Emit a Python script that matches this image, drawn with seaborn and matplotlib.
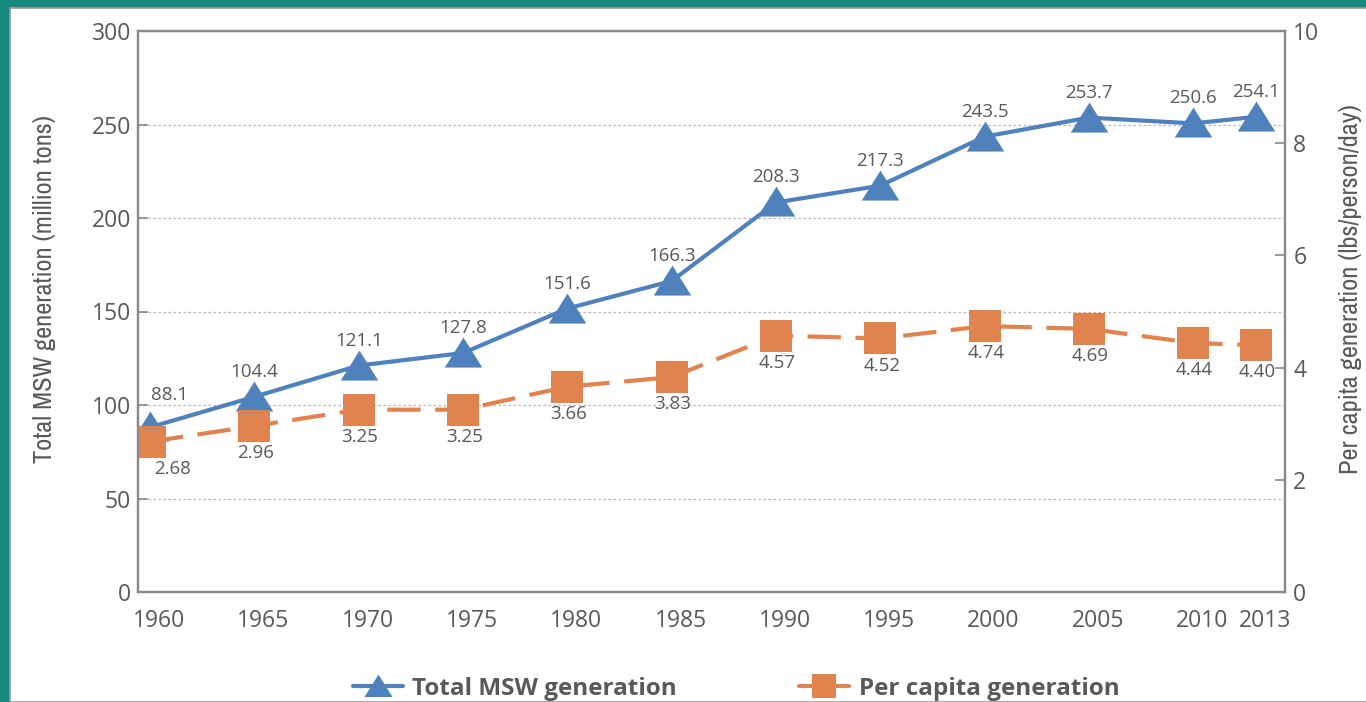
import matplotlib
matplotlib.use("Agg")
import matplotlib.pyplot as plt
import matplotlib.patches as mpatches
import matplotlib.transforms as mtransforms
from matplotlib import font_manager
from matplotlib.font_manager import FontProperties
import seaborn as sns
import pandas as pd

# ---- data ----
years = [1960, 1965, 1970, 1975, 1980, 1985, 1990, 1995, 2000, 2005, 2010, 2013]
total_msw = [88.1, 104.4, 121.1, 127.8, 151.6, 166.3, 208.3, 217.3, 243.5, 253.7, 250.6, 254.1]
per_capita = [2.68, 2.96, 3.25, 3.25, 3.66, 3.83, 4.57, 4.52, 4.74, 4.69, 4.44, 4.40]
left_ticks = [0, 50, 100, 150, 200, 250, 300]
right_ticks = [0, 2, 4, 6, 8, 10]
left_label = "Total MSW generation (million tons)"
right_label = "Per capita generation (lbs/person/day)"
series_names = ["Total MSW generation", "Per capita generation"]

df = pd.DataFrame({"year": years, "total": total_msw, "per_capita": per_capita})

sns.set_theme(style="white")
flist = font_manager.fontManager.ttflist
available = {f.name for f in flist}
BASE = "Open Sans" if "Open Sans" in available else "DejaVu Sans"
plt.rcParams["font.family"] = [BASE, "DejaVu Sans"]


def narrow_font(weight, size):
    cands = [f for f in flist
             if ("Narrow" in f.name or "Condensed" in f.name
                 or str(f.stretch) in ("condensed", "semi-condensed", "extra-condensed"))
             and not f.style.startswith(("italic", "oblique"))]
    want_bold = weight == "bold"
    best = None
    for f in cands:
        w = f.weight if isinstance(f.weight, int) else (700 if "bold" in str(f.weight) else 400)
        if (w >= 600) == want_bold:
            best = f
            if "Narrow" in f.name or "Liberation" in f.name:
                break
    if best is not None:
        return FontProperties(fname=best.fname, size=size), True
    return FontProperties(family=["Roboto", "DejaVu Sans"], weight=weight, size=size), False


TXT = "#595959"
BLUE = "#4F81BD"
ORANGE = "#E0834F"
SPINE = "#8a8a8a"

W, H = 1366, 702
fig = plt.figure(figsize=(W / 100, H / 100), dpi=100)
fig.patch.set_facecolor("#168a7f")
panel = mpatches.Rectangle((10 / W, 0), 1 - 10 / W + 0.01, 1 - 8 / H,
                           transform=fig.transFigure, facecolor="white",
                           edgecolor="#9a9a9a", linewidth=1.2, zorder=-5)
fig.patches.append(panel)

ax = fig.add_axes([138 / W, 1 - 592 / H, (1285 - 138) / W, (592 - 31) / H])
ax.set_facecolor("white")

tri = [(-1, -0.75), (1, -0.75), (0, 0.85), (-1, -0.75)]
sns.lineplot(data=df, x="year", y="total", ax=ax, color=BLUE, linewidth=3,
             marker=tri, markersize=27, markeredgewidth=0, label=series_names[0],
             legend=False)
ax.set_xlim(1959.42, 2014.4)
ax.set_ylim(0, 300)
ax.set_yticks(left_ticks)
ax.set_xticks(years)
ax.set_xticklabels([str(y) for y in years])
ax.set_xlabel("")
ax.set_ylabel("")
ax.yaxis.grid(True, linestyle=(0, (2, 2)), color="#b5b5b5", linewidth=0.9)
ax.xaxis.grid(False)
ax.set_axisbelow(True)
ax.tick_params(axis="y", direction="in", length=7, width=1.2, color=SPINE,
               labelsize=16.5, labelcolor=TXT, pad=5)
ax.tick_params(axis="x", length=0, labelsize=16.5, labelcolor=TXT, pad=12)
off = mtransforms.ScaledTranslation(9 / 100, 0, fig.dpi_scale_trans)
for lab in ax.get_xticklabels():
    lab.set_transform(lab.get_transform() + off)

ax2 = ax.twinx()
sns.lineplot(data=df, x="year", y="per_capita", ax=ax2, color=ORANGE, linewidth=3,
             linestyle=(0, (8, 3.5)), marker="s", markersize=23, markeredgewidth=0,
             label=series_names[1], legend=False)
ax2.set_ylim(0, 10)
ax2.set_yticks(right_ticks)
ax2.set_ylabel("")
ax2.tick_params(axis="y", direction="in", length=7, width=1.2, color=SPINE,
                labelsize=16.5, labelcolor=TXT, pad=6)

for a in (ax, ax2):
    for s in a.spines.values():
        s.set_color(SPINE)
        s.set_linewidth(1.6)

# value labels
for i, (x, v) in enumerate(zip(years, total_msw)):
    dx, dy = (14, 23) if i == 0 else (0, 18)
    ax.annotate(f"{v:.1f}", (x, v), xytext=(dx, dy), textcoords="offset points",
                ha="center", va="center", fontsize=13.5, color=TXT)
for i, (x, v) in enumerate(zip(years, per_capita)):
    dx = 16 if i == 0 else 1
    ax2.annotate(f"{v:.2f}", (x, v), xytext=(dx, -19.5), textcoords="offset points",
                 ha="center", va="center", fontsize=13.5, color=TXT, zorder=5)

# axis titles
lab_fp, is_narrow = narrow_font("normal", 19)
if not is_narrow:
    lab_fp.set_size(15.5)
fig.text(45 / W, 1 - 289 / H, left_label, rotation=90, ha="center", va="center",
         fontproperties=lab_fp, color=TXT)
fig.text(1350 / W, 1 - 289 / H, right_label, rotation=90, ha="center", va="center",
         fontproperties=lab_fp, color=TXT)

leg_fp = FontProperties(family=[BASE, "DejaVu Sans"], weight="bold", size=17.5)

h1, l1 = ax.get_legend_handles_labels()
h2, l2 = ax2.get_legend_handles_labels()
leg = fig.legend(h1 + h2, l1 + l2, loc="center", bbox_to_anchor=(736 / W, 1 - 689 / H),
                 ncol=2, frameon=False, handlelength=2.05, handletextpad=0.41,
                 columnspacing=5.0, markerscale=0.75, prop=leg_fp)
for t in leg.get_texts():
    t.set_color(TXT)
for lh in leg.legend_handles:
    lh.set_linestyle("-")

fig.savefig("out.png", dpi=100, facecolor=fig.get_facecolor())
